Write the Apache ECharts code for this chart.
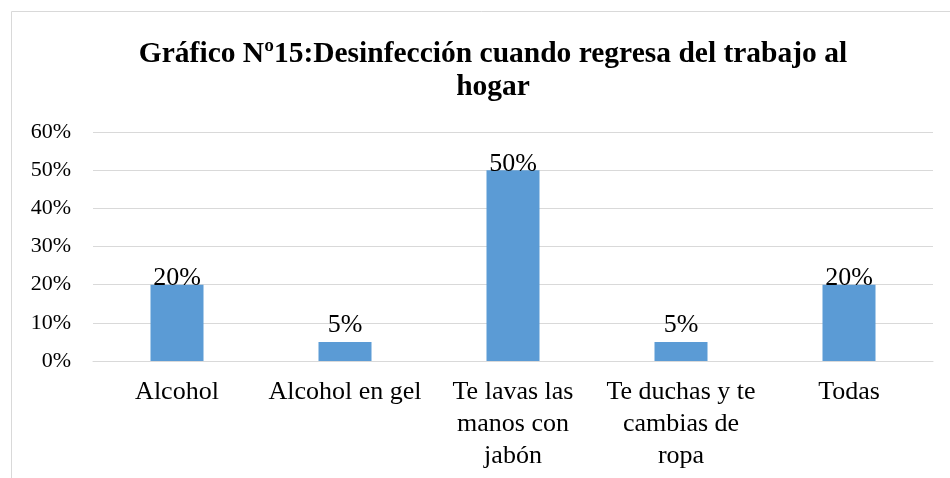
<!DOCTYPE html>
<html>
<head>
<meta charset="utf-8">
<script src="https://cdn.jsdelivr.net/npm/echarts@6/dist/echarts.min.js"></script>
<style>
  html, body { margin: 0; padding: 0; background: #fff; }
  #chart { width: 950px; height: 478px; }
</style>
</head>
<body>
<div id="chart"></div>
<script>
const titleText = 'Gráfico Nº15:Desinfección cuando regresa del trabajo al\nhogar';
const categories = [
  'Alcohol',
  'Alcohol en gel',
  'Te lavas las\nmanos con\njabón',
  'Te duchas y te\ncambias de\nropa',
  'Todas'
];
const values = [20, 5, 50, 5, 20];
const yTicks = [0, 10, 20, 30, 40, 50, 60];

const serif = '"Liberation Serif", "Times New Roman", serif';
const chart = echarts.init(document.getElementById('chart'));

// short bars keep their label above, taller ones overlap the bar top slightly
const barData = values.map(v => ({
  value: v,
  label: { distance: v < 10 ? 4 : -7 }
}));

chart.setOption({
  animation: false,
  graphic: [{
    type: 'rect',
    shape: { x: 11.5, y: 11.5, width: 1000, height: 1000 },
    style: { fill: 'none', stroke: '#d9d9d9', lineWidth: 1 },
    silent: true
  }],
  title: {
    text: titleText,
    left: 488,
    textAlign: 'center',
    top: 33,
    textStyle: {
      fontFamily: serif,
      fontWeight: 'bold',
      fontSize: 29.5,
      lineHeight: 33,
      color: '#000'
    }
  },
  grid: { left: 93, right: 17, top: 132, bottom: 117, containLabel: false },
  xAxis: {
    type: 'category',
    data: categories,
    axisLine: { show: true, lineStyle: { color: '#d9d9d9', width: 1 } },
    axisTick: { show: false },
    axisLabel: {
      interval: 0,
      margin: 15,
      fontFamily: serif,
      fontSize: 26,
      lineHeight: 32,
      color: '#000'
    }
  },
  yAxis: {
    type: 'value',
    min: yTicks[0],
    max: yTicks[yTicks.length - 1],
    interval: 10,
    axisLine: { show: false },
    axisTick: { show: false },
    splitLine: { lineStyle: { color: '#d9d9d9', width: 1 } },
    axisLabel: {
      margin: 22,
      fontFamily: serif,
      fontSize: 22,
      color: '#000',
      formatter: v => v + '%'
    }
  },
  series: [{
    type: 'bar',
    data: barData,
    barWidth: 53,
    itemStyle: { color: '#5b9bd5' },
    label: {
      show: true,
      position: 'top',
      fontFamily: serif,
      fontSize: 26,
      color: '#000',
      formatter: p => p.value + '%'
    }
  }]
});
</script>
</body>
</html>
